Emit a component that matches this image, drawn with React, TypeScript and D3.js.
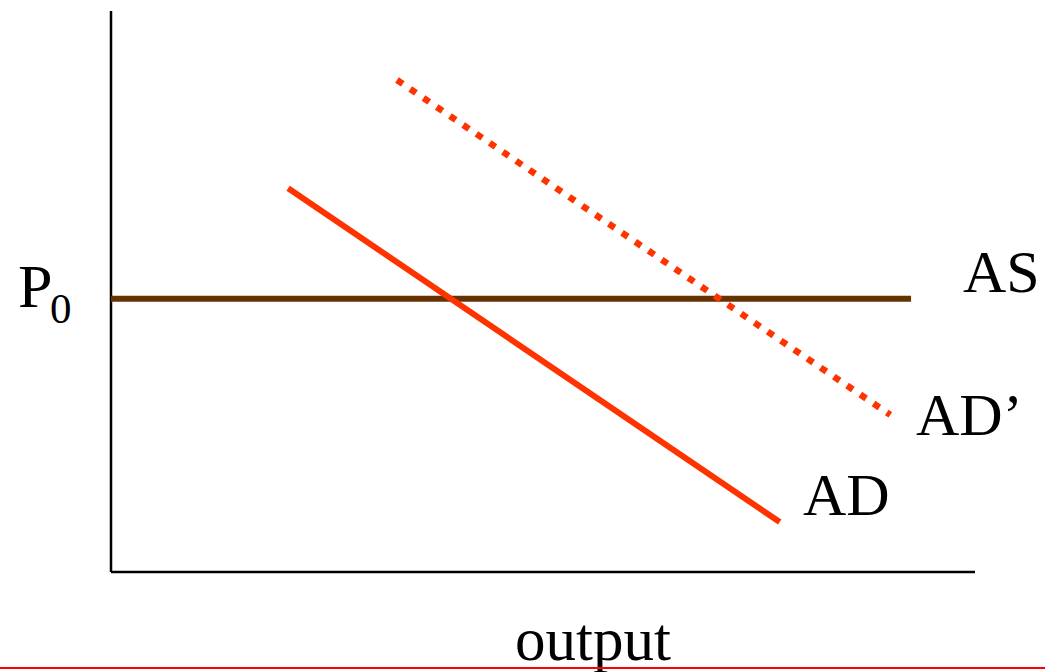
import React from "react";
import * as d3 from "d3";

const W = 1045;
const H = 672;

// Notional data (0-100 scale on both axes)
const asLevel = 48.7;
const asRange = [0, 92.6];
const adPoints: [number, number][] = [
  [20.5, 68.4],
  [77.4, 8.9],
];
const adPrimePoints: [number, number][] = [
  [33.1, 87.7],
  [90.2, 28.0],
];
const labels = { as: "AS", ad: "AD", adPrime: "AD’", p: "P", pSub: "0", x: "output" };

export default function App() {
  const x = d3.scaleLinear().domain([0, 100]).range([111, 975]);
  const y = d3.scaleLinear().domain([0, 100]).range([572, 11]);
  const line = d3
    .line<[number, number]>()
    .x((d) => x(d[0]))
    .y((d) => y(d[1]));
  const asPts: [number, number][] = [
    [asRange[0], asLevel],
    [asRange[1], asLevel],
  ];
  const font = "'Liberation Serif', 'Times New Roman', serif";
  return (
    <svg
      width={W}
      height={H}
      style={{ position: "absolute", left: 0, top: 0, background: "#fff" }}
    >
      {/* axes */}
      <line x1={x(0)} y1={y(0)} x2={x(0)} y2={y(100)} stroke="#000" strokeWidth={2.5} />
      <line x1={x(0)} y1={y(0)} x2={x(100)} y2={y(0)} stroke="#000" strokeWidth={2.5} />
      {/* AS */}
      <path d={line(asPts) || ""} stroke="#663300" strokeWidth={6} fill="none" />
      {/* AD */}
      <path d={line(adPoints) || ""} stroke="#ff3300" strokeWidth={6} fill="none" />
      {/* AD' */}
      <path
        d={line(adPrimePoints) || ""}
        stroke="#ff3300"
        strokeWidth={6.5}
        fill="none"
        strokeDasharray="7 9"
      />
      {/* labels */}
      <text x={18} y={307} fontFamily={font} fontSize={62} fill="#000">
        {labels.p}
      </text>
      <text x={50} y={323} fontFamily={font} fontSize={43} fill="#000">
        {labels.pSub}
      </text>
      <text x={963} y={292} fontFamily={font} fontSize={60} fill="#000">
        {labels.as}
      </text>
      <text x={916} y={435} fontFamily={font} fontSize={60} fill="#000">
        {labels.adPrime}
      </text>
      <text x={803} y={515} fontFamily={font} fontSize={60} fill="#000">
        {labels.ad}
      </text>
      <text x={515} y={660} fontFamily={font} fontSize={61} fill="#000">
        {labels.x}
      </text>
      {/* bottom red rule */}
      <line x1={0} y1={668} x2={W} y2={668} stroke="#ff0000" strokeWidth={2} />
    </svg>
  );
}
